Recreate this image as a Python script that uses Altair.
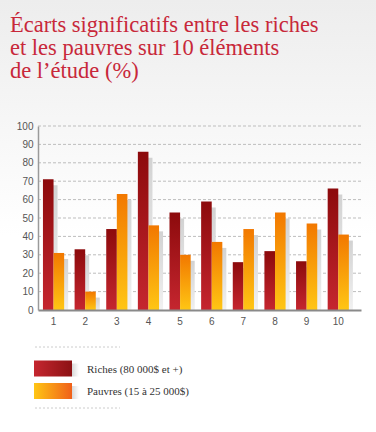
import altair as alt
import pandas as pd

categories = ["1", "2", "3", "4", "5", "6", "7", "8", "9", "10"]
riches = [71, 33, 44, 86, 53, 59, 26, 32, 26.5, 66]
pauvres = [31, 10, 63, 46, 30, 37, 44, 53, 47, 41]
series_names = ["Riches", "Pauvres"]
legend_labels = ["Riches (80 000$ et +)", "Pauvres (15 à 25 000$)"]
title_lines = ["Écarts significatifs entre les riches",
               "et les pauvres sur 10 éléments",
               "de l’étude (%)"]
y_ticks = [0, 10, 20, 30, 40, 50, 60, 70, 80, 90, 100]

rows = []
for c, r, p in zip(categories, riches, pauvres):
    rows.append({"cat": c, "series": "Riches", "value": r})
    rows.append({"cat": c, "series": "Pauvres", "value": p})
df = pd.DataFrame(rows)
grid_df = pd.DataFrame({"value": y_ticks[1:]})


def vgrad(c0, c1):
    return alt.Gradient(gradient="linear", x1=0, y1=0, x2=0, y2=1,
                        stops=[alt.GradientStop(color=c0, offset=0),
                               alt.GradientStop(color=c1, offset=1)])


def hgrad(c0, c1):
    return alt.Gradient(gradient="linear", x1=0, y1=0, x2=1, y2=0,
                        stops=[alt.GradientStop(color=c0, offset=0),
                               alt.GradientStop(color=c1, offset=1)])


RED = vgrad("#8c0a0c", "#c5262f")
ORANGE = vgrad("#f27800", "#ffc614")
SHADOW = vgrad("#d2d2d2", "#f4f4f4")

x_scale = alt.Scale(domain=categories, paddingInner=0.33, paddingOuter=0.27, align=0.29)
y_scale = alt.Scale(domain=[0, 100], nice=False)

x_enc = alt.X("cat:N", sort=categories, scale=x_scale,
              axis=alt.Axis(title=None, labelAngle=0, labelFont="Liberation Sans",
                            labelFontSize=10, labelColor="#555555", labelPadding=6,
                            ticks=False, grid=False, domainColor="#8a8a8a",
                            domainWidth=2, zindex=1))
y_axis = alt.Axis(title=None, values=y_ticks, labelFont="Liberation Sans",
                  labelFontSize=10, labelColor="#555555", labelPadding=5,
                  labelOverlap=False, ticks=False, grid=False,
                  domainColor="#9a9a9a", domainWidth=1.5, zindex=1)
y_enc = alt.Y("value:Q", scale=y_scale, axis=y_axis, title=None)

base = alt.Chart(df).encode(x=x_enc, y=y_enc)

HALF = 5.3


def layer_for(name, color, off, shadow=False):
    if shadow:
        m = base.mark_bar(color=SHADOW, width=alt.RelativeBandSize(0.5),
                          xOffset=off + 4, yOffset=6, clip=True)
    else:
        m = base.mark_bar(color=color, width=alt.RelativeBandSize(0.5), xOffset=off)
    return m.transform_filter(alt.datum.series == name)


one = pd.DataFrame({"k": [0]})

bg = alt.Chart(one).mark_rect(color=vgrad("#ededed", "#ffffff")).encode(
    x=alt.value(-38), x2=alt.value(338), y=alt.value(-126), y2=alt.value(110))

grid = alt.Chart(grid_df).mark_rule(color="#bdbdbd", strokeDash=[3, 2], strokeWidth=1).encode(
    y=y_enc, x=alt.value(0), x2=alt.value(323))

title = alt.Chart(one).mark_text(
    text=title_lines, align="left", baseline="alphabetic", font="Liberation Serif",
    fontSize=22.5, lineHeight=23, color="#c8283a").encode(
    x=alt.value(-28), y=alt.value(-94))

leg_df = pd.DataFrame({"label": legend_labels, "series": series_names})

rule_top = alt.Chart(one).mark_rule(color="#cccccc", strokeDash=[2, 2]).encode(
    x=alt.value(-3), x2=alt.value(82), y=alt.value(221))
rule_bot = alt.Chart(one).mark_rule(color="#cccccc", strokeDash=[2, 2]).encode(
    x=alt.value(-3), x2=alt.value(82), y=alt.value(282))

legend_layers = []
for i, (name, lab, grad) in enumerate(zip(series_names, legend_labels,
                                          [hgrad("#c5262f", "#8c1214"),
                                           hgrad("#ffc614", "#f0601a")])):
    y0 = 234.5 + i * 22.5
    d = leg_df[leg_df.series == name]
    legend_layers.append(alt.Chart(d).mark_rect(color=hgrad("#d8d8d8", "#ffffff")).encode(
        x=alt.value(34), x2=alt.value(41), y=alt.value(y0 + 3), y2=alt.value(y0 + 16)))
    legend_layers.append(alt.Chart(d).mark_rect(color=grad).encode(
        x=alt.value(-4), x2=alt.value(34), y=alt.value(y0), y2=alt.value(y0 + 16)))
    legend_layers.append(alt.Chart(d).mark_text(
        align="left", baseline="middle", font="Liberation Serif", fontSize=11,
        color="#333333").encode(text="label:N", x=alt.value(49), y=alt.value(y0 + 9)))

chart = alt.layer(
    bg, title, grid,
    layer_for("Riches", RED, -HALF, shadow=True),
    layer_for("Riches", RED, -HALF),
    layer_for("Pauvres", ORANGE, HALF, shadow=True),
    layer_for("Pauvres", ORANGE, HALF),
    rule_top, rule_bot, *legend_layers
).properties(
    width=323, height=184,
    padding={"left": 38, "top": 126, "right": 15, "bottom": 122},
    autosize=alt.AutoSizeParams(type="none"),
    background="#ffffff"
).configure_view(stroke=None)

chart.save("out.html", embed_options={"renderer": "svg", "actions": False})
